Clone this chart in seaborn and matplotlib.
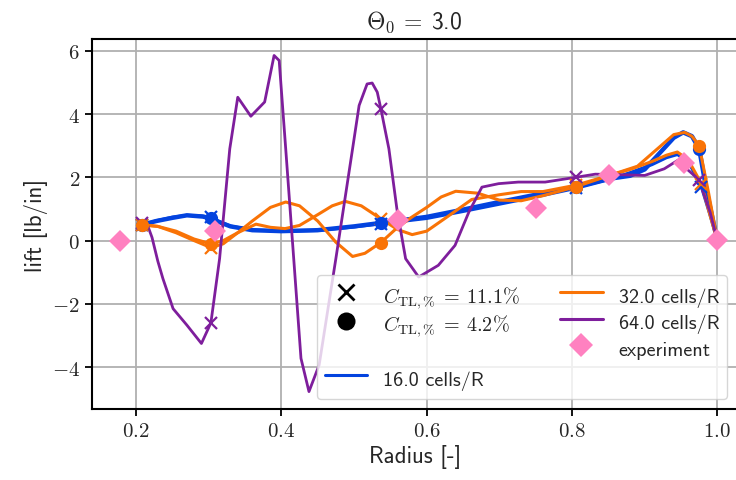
import numpy as np
import pandas as pd
import matplotlib
matplotlib.use("Agg")
import matplotlib.pyplot as plt
from matplotlib.lines import Line2D
from matplotlib.ticker import FuncFormatter
import seaborn as sns

# ---- spanwise lift distributions [lb/in] vs radius r/R ----
r_16_42 = [0.208, 0.228, 0.25, 0.27, 0.292, 0.303, 0.315, 0.33, 0.36, 0.4, 0.45, 0.5, 0.537,
           0.6, 0.65, 0.7, 0.75, 0.805, 0.85, 0.88, 0.9, 0.92, 0.94, 0.953, 0.965, 0.975, 0.985, 1.0]
lift_16_42 = [0.5, 0.62, 0.72, 0.8, 0.76, 0.7, 0.58, 0.45, 0.33, 0.3, 0.33, 0.45, 0.56,
              0.75, 0.98, 1.22, 1.45, 1.7, 1.95, 2.05, 2.25, 2.75, 3.25, 3.42, 3.3, 2.9, 1.6, 0.0]

r_16_111 = [0.208, 0.228, 0.25, 0.27, 0.29, 0.303, 0.315, 0.33, 0.36, 0.4, 0.45, 0.5, 0.537,
            0.6, 0.65, 0.7, 0.75, 0.805, 0.85, 0.88, 0.91, 0.93, 0.945, 0.96, 0.978, 0.99, 1.0]
lift_16_111 = [0.5, 0.63, 0.74, 0.8, 0.78, 0.74, 0.6, 0.46, 0.34, 0.3, 0.32, 0.43, 0.53,
               0.7, 0.92, 1.15, 1.38, 1.65, 1.92, 2.15, 2.4, 2.62, 2.72, 2.5, 1.7, 0.8, 0.0]

r_32_42 = [0.208, 0.23, 0.255, 0.28, 0.303, 0.32, 0.34, 0.36, 0.385, 0.406, 0.425, 0.45, 0.475,
           0.498, 0.515, 0.537, 0.56, 0.58, 0.6, 0.62, 0.64, 0.67, 0.7, 0.73, 0.76, 0.805, 0.85,
           0.89, 0.92, 0.94, 0.955, 0.965, 0.975, 0.988, 1.0]
lift_32_42 = [0.5, 0.45, 0.3, 0.05, -0.1, 0.0, 0.25, 0.62, 1.05, 1.22, 1.1, 0.62, -0.05,
              -0.5, -0.4, -0.06, 0.42, 0.75, 1.05, 1.38, 1.56, 1.5, 1.28, 1.26, 1.42, 1.7, 2.05,
              2.35, 2.95, 3.35, 3.42, 3.3, 3.0, 1.5, 0.0]

r_32_111 = [0.208, 0.23, 0.255, 0.28, 0.303, 0.32, 0.34, 0.365, 0.385, 0.405, 0.425, 0.45, 0.47,
            0.488, 0.51, 0.537, 0.56, 0.58, 0.6, 0.63, 0.662, 0.7, 0.73, 0.76, 0.805, 0.85, 0.88,
            0.91, 0.93, 0.945, 0.96, 0.978, 0.99, 1.0]
lift_32_111 = [0.5, 0.45, 0.25, 0.0, -0.22, -0.1, 0.25, 0.52, 0.42, 0.38, 0.48, 0.82, 1.1,
               1.24, 1.1, 0.69, 0.35, 0.19, 0.3, 0.78, 1.3, 1.45, 1.55, 1.55, 1.75, 2.05, 2.25,
               2.5, 2.7, 2.8, 2.55, 1.8, 0.8, 0.0]

r_64_111 = [0.208, 0.215, 0.222, 0.23, 0.237, 0.251, 0.27, 0.29, 0.303, 0.315, 0.329, 0.34, 0.358,
            0.377, 0.39, 0.397, 0.406, 0.427, 0.438, 0.452, 0.475, 0.498, 0.507, 0.518, 0.525,
            0.532, 0.537, 0.548, 0.559, 0.571, 0.589, 0.616, 0.639, 0.658, 0.676, 0.699, 0.726,
            0.763, 0.805, 0.832, 0.87, 0.9, 0.927, 0.945, 0.968, 0.975, 0.99, 1.0]
lift_64_111 = [0.55, 0.54, 0.1, -0.65, -1.2, -2.15, -2.67, -3.25, -2.6, -0.57, 2.9, 4.53, 3.93,
               4.38, 5.85, 5.69, 2.9, -3.72, -4.77, -3.93, -0.57, 2.9, 4.27, 4.95, 4.98,
               4.69, 4.16, 2.9, 1.0, -0.57, -1.15, -0.78, -0.15, 0.9, 1.69, 1.8, 1.85,
               1.85, 2.0, 2.1, 2.08, 2.06, 2.27, 2.53, 2.06, 1.9, 0.9, 0.0]

# measured lift
r_exp = [0.178, 0.309, 0.56, 0.75, 0.851, 0.954, 1.0]
lift_exp = [0.0, 0.3, 0.65, 1.04, 2.07, 2.46, 0.02]

# radial stations where the probes are marked
stations_42 = [0.208, 0.303, 0.537, 0.805, 0.975]
stations_111 = [0.208, 0.303, 0.537, 0.805, 0.978]
stations_64 = [0.208, 0.303, 0.537, 0.805, 0.975]

x_ticks = [0.2, 0.4, 0.6, 0.8, 1.0]
y_ticks = [-4, -2, 0, 2, 4, 6]

BLUE, ORANGE, PURPLE, PINK = "#0343df", "#f97306", "#7e1e9c", "#ff81c0"

sns.set_style("ticks")
plt.rcParams["font.family"] = ["cmss10", "DejaVu Sans"]
plt.rcParams["mathtext.fontset"] = "cm"
plt.rcParams["axes.unicode_minus"] = False
plt.rcParams["axes.formatter.use_mathtext"] = True

fig = plt.figure(figsize=(7.36, 4.81), dpi=100)
ax = fig.add_axes([0.1246, 0.1476, 1.002 - 0.1246, 0.9168 - 0.1476])

curves = [
    (r_16_111, lift_16_111, stations_111, BLUE, 2.2, "x"),
    (r_16_42, lift_16_42, stations_42, BLUE, 3.2, "o"),
    (r_32_111, lift_32_111, stations_111, ORANGE, 2.2, "x"),
    (r_32_42, lift_32_42, stations_42, ORANGE, 2.2, "o"),
    (r_64_111, lift_64_111, stations_64, PURPLE, 2.0, "x"),
]

for i, (r, l, st, c, lw, mk) in enumerate(curves):
    df = pd.DataFrame({"r": r, "lift": l})
    sns.lineplot(data=df, x="r", y="lift", color=c, lw=lw, sort=False,
                 estimator=None, ax=ax, zorder=2 + i * 0.1)
    sel = df[df["r"].isin(st)]
    if mk == "o":
        ax.plot(sel["r"], sel["lift"], ls="none", marker="o", ms=9.5, mew=0,
                color=c, zorder=4)
    else:
        ax.plot(sel["r"], sel["lift"], ls="none", marker="x", ms=8, mew=1.6,
                color=c, zorder=3.5)

exp = pd.DataFrame({"r": r_exp, "lift": lift_exp})
ax.plot(exp["r"], exp["lift"], ls="none", marker="D", ms=11.5, mew=0,
        color=PINK, zorder=5)

ax.set_xlim(0.139, 1.0277)
ax.set_ylim(-5.32, 6.37)
ax.set_xticks(x_ticks)
ax.set_yticks(y_ticks)
ax.xaxis.set_major_formatter(FuncFormatter(lambda v, p: f"${v:.1f}$"))
ax.yaxis.set_major_formatter(FuncFormatter(lambda v, p: f"${v:.0f}$"))
ax.tick_params(labelsize=15, length=5, width=1.3, color="black")
ax.grid(True, color="#b0b0b0", lw=1.3)
ax.set_axisbelow(True)
for s in ax.spines.values():
    s.set_color("black")
    s.set_linewidth(1.5)

ax.set_xlabel("Radius [-]", fontsize=16.5, labelpad=3)
ax.set_ylabel("lift [lb/in]", fontsize=16.5, labelpad=3)
ax.set_title(r"$\Theta_0\:=\:$3.0", fontsize=17, pad=8)

handles = [
    Line2D([], [], ls="none", marker="x", ms=11, mew=2, color="black"),
    Line2D([], [], ls="none", marker="o", ms=13, mew=0, color="black"),
    Line2D([], [], ls="none", marker=None, color="none"),
    Line2D([], [], color=BLUE, lw=2.2),
    Line2D([], [], color=ORANGE, lw=2.2),
    Line2D([], [], color=PURPLE, lw=2.2),
    Line2D([], [], ls="none", marker="D", ms=12.5, mew=0, color=PINK),
]
labels = [
    r"$C_{\mathrm{TL},\%}\:=\:11.1\%$",
    r"$C_{\mathrm{TL},\%}\:=\:4.2\%$",
    " ",
    "16.0 cells/R",
    "32.0 cells/R",
    "64.0 cells/R",
    "experiment",
]
leg = ax.legend(handles, labels, ncol=2, loc="lower right", fontsize=14.5,
                framealpha=0.8, edgecolor="#cccccc", labelspacing=0.05,
                handleheight=1.55, columnspacing=2.0, handlelength=2.1,
                borderaxespad=0.5, borderpad=0.4)
leg.set_zorder(10)

fig.savefig("out.png", dpi=100)
